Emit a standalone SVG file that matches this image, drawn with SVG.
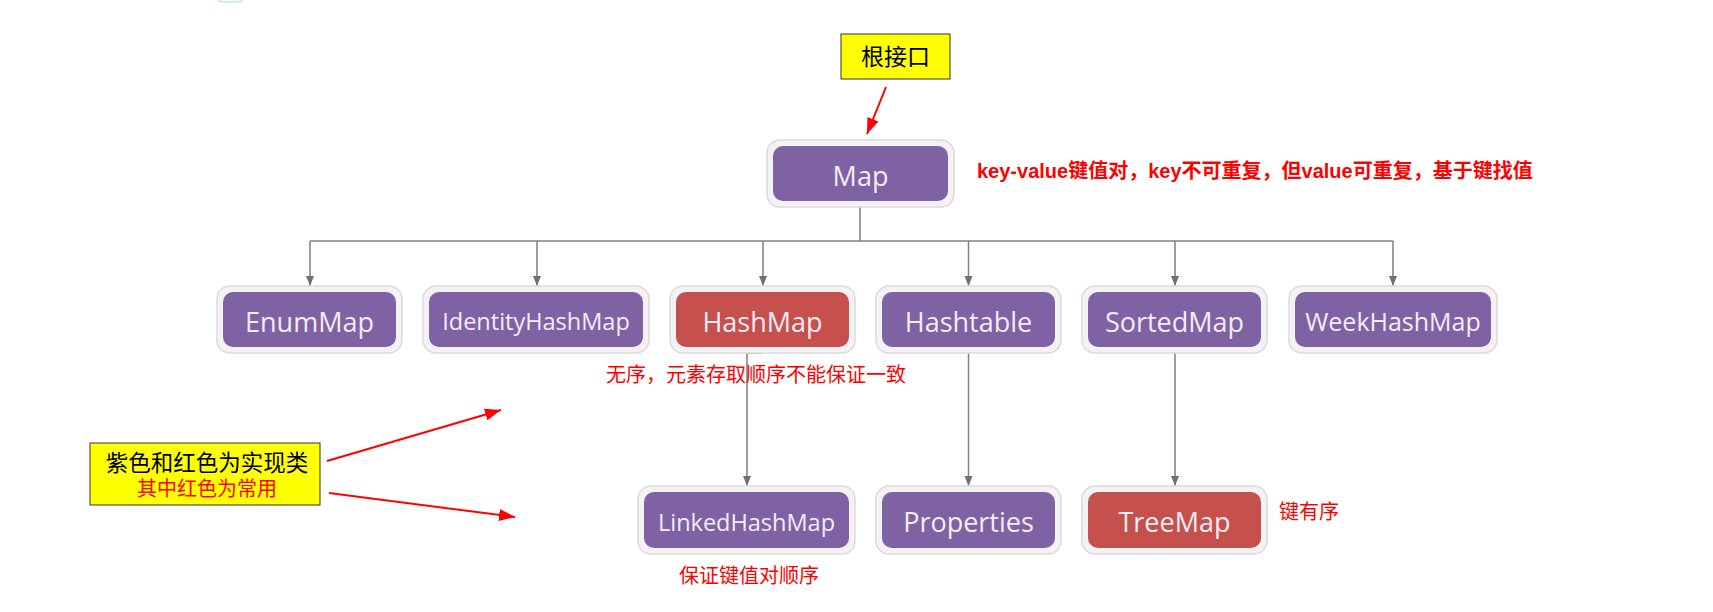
<svg xmlns="http://www.w3.org/2000/svg" width="1713" height="612" viewBox="0 0 1713 612">
<style>
.frame{fill:#F4F2F4;stroke:#DCDADC;stroke-width:1.5}
.purple{fill:#7E62A3}
.red{fill:#C5504C}
.lbl{font-family:"Open Sans","Liberation Sans",sans-serif;fill:#F4ECF6;text-anchor:middle;font-size:27px}
.lbl.s{font-size:23.5px}
.lbl.m{font-size:25px}
.conn{fill:none;stroke:#808080;stroke-width:1.5}
.ann{font-family:"Liberation Sans","Noto Sans CJK SC",sans-serif;fill:#FF0000;font-size:20px}
.note{fill:#FFFF00;stroke:#333333;stroke-width:1}
.notetxt{font-family:"Liberation Sans","Noto Sans CJK SC",sans-serif;text-anchor:middle}
.rarrow{stroke:#FF0000;stroke-width:2;fill:none}
</style>
<defs>
<marker id="ga" markerUnits="userSpaceOnUse" markerWidth="12" markerHeight="10" refX="10" refY="4" orient="auto">
<path d="M0,0 L10,4 L0,8 z" fill="#707070"/>
</marker>
<marker id="ra" markerUnits="userSpaceOnUse" markerWidth="18" markerHeight="14" refX="16" refY="6" orient="auto">
<path d="M0,0 L16,6 L0,12 z" fill="#FF0000"/>
</marker>
</defs>
<rect width="1713" height="612" fill="#FFFFFF"/>
<path d="M218,1 Q230,3 243,1" stroke="#D6E6F4" stroke-width="2" fill="none"/>

<g id="connectors">
<path class="conn" d="M860,207 V241"/>
<path class="conn" d="M310,241 H1393"/>
<path class="conn" d="M310,241 V286" marker-end="url(#ga)"/>
<path class="conn" d="M537,241 V286" marker-end="url(#ga)"/>
<path class="conn" d="M763,241 V286" marker-end="url(#ga)"/>
<path class="conn" d="M968.5,241 V286" marker-end="url(#ga)"/>
<path class="conn" d="M1175,241 V286" marker-end="url(#ga)"/>
<path class="conn" d="M1393,241 V286" marker-end="url(#ga)"/>
<path class="conn" d="M762,353 H747 V486" marker-end="url(#ga)"/>
<path class="conn" d="M968.5,353 V486" marker-end="url(#ga)"/>
<path class="conn" d="M1175,353 V486" marker-end="url(#ga)"/>
<path class="rarrow" d="M886,87 L867,134" marker-end="url(#ra)"/>
<path class="rarrow" d="M327,461 L501,410" marker-end="url(#ra)"/>
<path class="rarrow" d="M329,493 L515,517" marker-end="url(#ra)"/>
</g>

<g id="note-root">
<rect class="note" x="841" y="34" width="109" height="45"/>
<text class="notetxt" x="895.5" y="65" font-size="23" fill="#000000">根接口</text>
</g>

<g id="node-map">
<rect class="frame" x="767" y="140" width="187" height="67" rx="13"/>
<rect class="purple" x="773" y="146" width="175" height="55" rx="10"/>
<text class="lbl" x="860.5" y="186">Map</text>
</g>

<g id="ann-map">
<text class="ann" x="977" y="178" font-weight="bold">key-value键值对，key不可重复，但value可重复，基于键找值</text>
</g>

<g id="node-enummap">
<rect class="frame" x="217" y="286" width="185" height="67" rx="13"/>
<rect class="purple" x="223" y="292" width="173" height="55" rx="10"/>
<text class="lbl" x="309.5" y="332">EnumMap</text>
</g>

<g id="node-identityhashmap">
<rect class="frame" x="423" y="286" width="226" height="67" rx="13"/>
<rect class="purple" x="429" y="292" width="214" height="55" rx="10"/>
<text class="lbl s" x="536" y="330">IdentityHashMap</text>
</g>

<g id="node-hashmap">
<rect class="frame" x="670" y="286" width="185" height="67" rx="13"/>
<rect class="red" x="676" y="292" width="173" height="55" rx="10"/>
<text class="lbl" x="762.5" y="332">HashMap</text>
</g>

<g id="node-hashtable">
<rect class="frame" x="876" y="286" width="185" height="67" rx="13"/>
<rect class="purple" x="882" y="292" width="173" height="55" rx="10"/>
<text class="lbl" x="968.5" y="332">Hashtable</text>
</g>

<g id="node-sortedmap">
<rect class="frame" x="1082" y="286" width="185" height="67" rx="13"/>
<rect class="purple" x="1088" y="292" width="173" height="55" rx="10"/>
<text class="lbl" x="1174.5" y="332">SortedMap</text>
</g>

<g id="node-weekhashmap">
<rect class="frame" x="1289" y="286" width="208" height="67" rx="13"/>
<rect class="purple" x="1295" y="292" width="196" height="55" rx="10"/>
<text class="lbl m" x="1393" y="330.5">WeekHashMap</text>
</g>

<g id="ann-hashmap">
<text class="ann" x="606" y="382">无序，元素存取顺序不能保证一致</text>
</g>

<g id="node-linkedhashmap">
<rect class="frame" x="638" y="486" width="217" height="68" rx="13"/>
<rect class="purple" x="644" y="492" width="205" height="56" rx="10"/>
<text class="lbl s" x="746.5" y="530.5">LinkedHashMap</text>
</g>

<g id="node-properties">
<rect class="frame" x="876" y="486" width="185" height="68" rx="13"/>
<rect class="purple" x="882" y="492" width="173" height="56" rx="10"/>
<text class="lbl" x="968.5" y="532">Properties</text>
</g>

<g id="node-treemap">
<rect class="frame" x="1082" y="486" width="185" height="68" rx="13"/>
<rect class="red" x="1088" y="492" width="173" height="56" rx="10"/>
<text class="lbl" x="1174.5" y="532">TreeMap</text>
</g>

<g id="ann-treemap">
<text class="ann" x="1279" y="519">键有序</text>
</g>

<g id="ann-linked">
<text class="ann" x="679" y="583">保证键值对顺序</text>
</g>

<g id="note-legend">
<rect class="note" x="90" y="443" width="230" height="62"/>
<text class="notetxt" x="207" y="471" font-size="22.5" fill="#000000">紫色和红色为实现类</text>
<text class="notetxt" x="207" y="496" font-size="20" fill="#FF0000">其中红色为常用</text>
</g>
</svg>
